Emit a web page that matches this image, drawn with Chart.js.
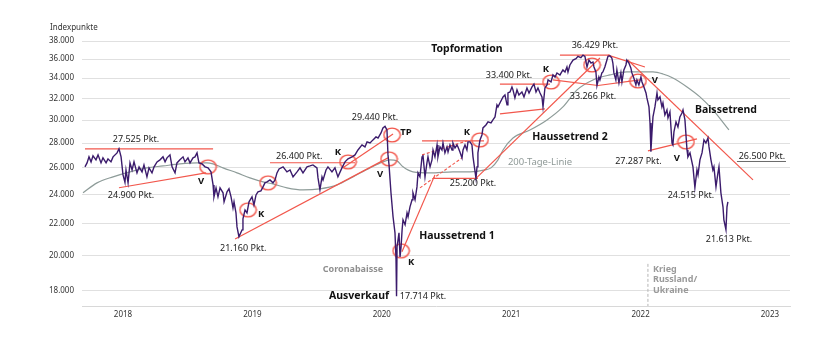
<!DOCTYPE html>
<html lang="de">
<head>
<meta charset="utf-8">
<title>Indexverlauf mit Chartformationen</title>
<script src="https://cdn.jsdelivr.net/npm/chart.js@4.4.1/dist/chart.umd.min.js"></script>
<style>
    html, body { margin: 0; padding: 0; background: #fff; }
    #wrap { width: 840px; height: 341px; }
</style>
</head>
<body>
<div id="wrap"><canvas id="chart" width="840" height="341"></canvas></div>
<script>
// Kursverlauf: [Jahr als Dezimalzahl, Indexpunkte]
const kurs2017 = [
    [2017.706, 26080], [2017.722, 26390], [2017.737, 26870], [2017.753, 26470], [2017.768, 26950],
    [2017.791, 26630], [2017.807, 27030], [2017.830, 26390], [2017.845, 26790], [2017.869, 26390],
    [2017.884, 26710], [2017.907, 26470], [2017.923, 26870], [2017.954, 27190], [2017.969, 27525],
    [2017.985, 26870]
];
const kurs2018 = [
    [2018.000, 25460], [2018.015, 24900], [2018.023, 25840], [2018.039, 24860], [2018.054, 26390],
    [2018.070, 25840], [2018.085, 26470], [2018.108, 25610], [2018.124, 26080], [2018.147, 25690],
    [2018.162, 26230], [2018.185, 25310], [2018.201, 26000], [2018.224, 25610], [2018.240, 26080],
    [2018.263, 26470], [2018.286, 26630], [2018.309, 26870], [2018.325, 26470], [2018.340, 26790],
    [2018.363, 27030], [2018.379, 26080], [2018.402, 25610], [2018.417, 26390], [2018.440, 26630],
    [2018.464, 26870], [2018.479, 26470], [2018.502, 26790], [2018.518, 26390], [2018.541, 26790],
    [2018.556, 26870], [2018.572, 27190], [2018.587, 26390], [2018.611, 26310], [2018.634, 26080],
    [2018.657, 26000], [2018.680, 25690], [2018.696, 24710], [2018.703, 23840], [2018.719, 24490],
    [2018.734, 23840], [2018.750, 24490], [2018.773, 24130], [2018.781, 23490], [2018.804, 24200],
    [2018.819, 24420], [2018.835, 23840], [2018.850, 23070], [2018.858, 23490], [2018.873, 22730],
    [2018.881, 21790], [2018.896, 21160], [2018.920, 21600], [2018.927, 22320], [2018.943, 22930],
    [2018.958, 22730], [2018.974, 23490], [2018.997, 23840]
];
const kurs2019 = [
    [2019.012, 23270], [2019.028, 23980], [2019.043, 24200], [2019.066, 24270], [2019.082, 24560],
    [2019.097, 24860], [2019.113, 24930], [2019.136, 25080], [2019.159, 24860], [2019.175, 25080],
    [2019.190, 25610], [2019.206, 25920], [2019.237, 26080], [2019.267, 25690], [2019.291, 25840],
    [2019.314, 25310], [2019.345, 25690], [2019.368, 26000], [2019.391, 25610], [2019.422, 26080],
    [2019.445, 26150], [2019.468, 26230], [2019.499, 26000], [2019.507, 25230], [2019.522, 24340],
    [2019.538, 25310], [2019.546, 25080], [2019.569, 25840], [2019.584, 26080], [2019.615, 25690],
    [2019.638, 26000], [2019.661, 25310], [2019.692, 26000], [2019.716, 26470], [2019.739, 26710],
    [2019.770, 26870], [2019.793, 27030], [2019.816, 27430], [2019.847, 27850], [2019.870, 27680],
    [2019.886, 28100], [2019.909, 28010], [2019.932, 28270], [2019.955, 28520], [2019.971, 28430],
    [2019.994, 28860]
];
const kurs2020 = [
    [2020.009, 29300], [2020.025, 29440], [2020.040, 29120], [2020.048, 27030], [2020.056, 26230],
    [2020.071, 24130], [2020.087, 22460], [2020.102, 21410], [2020.110, 19750], [2020.114, 17714],
    [2020.118, 20530], [2020.133, 21410], [2020.141, 19920], [2020.149, 20530], [2020.157, 21600],
    [2020.164, 22260], [2020.180, 21930], [2020.195, 22730], [2020.203, 22460], [2020.218, 23140],
    [2020.234, 23630], [2020.241, 24130], [2020.257, 23630], [2020.272, 24560], [2020.280, 25610],
    [2020.295, 25310], [2020.311, 26870], [2020.318, 27030], [2020.334, 25310], [2020.349, 26390],
    [2020.357, 26870], [2020.373, 26080], [2020.388, 26630], [2020.396, 27430], [2020.411, 26870],
    [2020.427, 27850], [2020.434, 26870], [2020.450, 27680], [2020.465, 27430], [2020.473, 28010],
    [2020.488, 27190], [2020.504, 27680], [2020.512, 27270], [2020.527, 27850], [2020.543, 27430],
    [2020.550, 28010], [2020.566, 27600], [2020.581, 27850], [2020.589, 27680], [2020.604, 27270],
    [2020.620, 26790], [2020.628, 27430], [2020.643, 27850], [2020.658, 27430], [2020.666, 28100],
    [2020.682, 28100], [2020.697, 27850], [2020.705, 26870], [2020.728, 25200], [2020.736, 26080],
    [2020.743, 27190], [2020.759, 28270], [2020.774, 28690], [2020.782, 29300], [2020.805, 29560],
    [2020.821, 29830], [2020.844, 29740], [2020.859, 30010], [2020.875, 30280], [2020.890, 31390],
    [2020.898, 31200], [2020.913, 31570], [2020.937, 32150], [2020.952, 32340], [2020.968, 31390],
    [2020.975, 32530], [2020.991, 32630]
];
const kurs2021 = [
    [2021.006, 33120], [2021.014, 32830], [2021.029, 32050], [2021.045, 32830], [2021.060, 32340],
    [2021.083, 32630], [2021.099, 32150], [2021.122, 33020], [2021.138, 32530], [2021.161, 33120],
    [2021.176, 33400], [2021.192, 32630], [2021.207, 33020], [2021.223, 32530], [2021.238, 32150],
    [2021.246, 31200], [2021.261, 33020], [2021.277, 33320], [2021.285, 33820], [2021.308, 33620],
    [2021.323, 34330], [2021.339, 34120], [2021.354, 34540], [2021.377, 34330], [2021.400, 34850],
    [2021.416, 34640], [2021.431, 35160], [2021.439, 34640], [2021.454, 35370], [2021.478, 35900],
    [2021.501, 36050], [2021.516, 36300], [2021.539, 36150], [2021.555, 36429], [2021.570, 36280],
    [2021.586, 35160], [2021.601, 35900], [2021.617, 35580], [2021.632, 35690], [2021.640, 35160],
    [2021.655, 34640], [2021.663, 33266], [2021.678, 34120], [2021.686, 33820], [2021.701, 34540],
    [2021.709, 34640], [2021.724, 35160], [2021.740, 35900], [2021.748, 36300], [2021.763, 36350],
    [2021.778, 36120], [2021.786, 35580], [2021.794, 34540], [2021.809, 33820], [2021.817, 34850],
    [2021.833, 33520], [2021.848, 34540], [2021.856, 33620], [2021.871, 34850], [2021.887, 35370],
    [2021.894, 35900], [2021.910, 35580], [2021.925, 35060], [2021.933, 34540], [2021.948, 34020],
    [2021.964, 33320], [2021.972, 33820], [2021.987, 33320]
];
const kurs2022 = [
    [2022.003, 34120], [2022.011, 33620], [2022.026, 33120], [2022.042, 32530], [2022.049, 32050],
    [2022.065, 31200], [2022.073, 29740], [2022.080, 27287], [2022.088, 28860], [2022.096, 30280],
    [2022.111, 31200], [2022.127, 32530], [2022.134, 31860], [2022.150, 32150], [2022.165, 31200],
    [2022.173, 31570], [2022.188, 30460], [2022.204, 30920], [2022.212, 30190], [2022.227, 30730],
    [2022.243, 28010], [2022.250, 27850], [2022.258, 28950], [2022.274, 29830], [2022.289, 29390],
    [2022.304, 30280], [2022.320, 30640], [2022.328, 30920], [2022.343, 30010], [2022.359, 27430],
    [2022.366, 26870], [2022.382, 27190], [2022.405, 26080], [2022.420, 24515], [2022.436, 25840],
    [2022.444, 25460], [2022.459, 26630], [2022.475, 27190], [2022.490, 28270], [2022.505, 28010],
    [2022.521, 28430], [2022.529, 27680], [2022.544, 26630], [2022.559, 25840], [2022.567, 26080],
    [2022.583, 24560], [2022.598, 25610], [2022.606, 26080], [2022.621, 24130], [2022.637, 23140],
    [2022.644, 22260], [2022.660, 21613], [2022.668, 23140], [2022.675, 23490]
];

// 200-Tage-Linie
const gd200 = [
    [2017.691, 24130], [2017.799, 24860], [2017.923, 25310], [2018.054, 25690], [2018.185, 26000],
    [2018.309, 26150], [2018.440, 26310], [2018.572, 26390], [2018.649, 26390], [2018.696, 26310],
    [2018.773, 26000], [2018.881, 25610], [2018.981, 25230], [2019.082, 24930], [2019.159, 24780],
    [2019.267, 24490], [2019.391, 24340], [2019.522, 24420], [2019.654, 24710], [2019.777, 25310],
    [2019.909, 26000], [2020.009, 26470], [2020.063, 26630], [2020.117, 26550], [2020.164, 26080],
    [2020.241, 25690], [2020.373, 25610], [2020.550, 25690], [2020.682, 25690], [2020.797, 25840],
    [2020.844, 26000], [2020.898, 26630], [2020.937, 27430], [2021.014, 28430], [2021.145, 29120],
    [2021.277, 30010], [2021.400, 31200], [2021.509, 32830], [2021.632, 33820], [2021.763, 34330],
    [2021.894, 34640], [2022.018, 34640], [2022.096, 34640], [2022.173, 34430], [2022.250, 34020],
    [2022.359, 33120], [2022.459, 32150], [2022.559, 30920], [2022.683, 29120]
];

// Trend-, Unterstützungs- und Widerstandslinien: [x1, y1, x2, y2]
const trendLinien = [
    [2017.706, 27525, 2018.696, 27525],
    [2017.969, 24500, 2018.641, 25610],
    [2018.866, 21020, 2020.048, 26790],
    [2019.136, 26400, 2019.793, 26400],
    [2019.700, 26000, 2020.087, 28780],
    [2020.156, 20230, 2020.411, 25460],
    [2020.311, 28180, 2020.790, 28180],
    [2020.396, 25200, 2020.743, 25200],
    [2020.728, 25200, 2021.686, 36120],
    [2020.913, 33400, 2021.300, 33400],
    [2020.913, 30550, 2021.261, 31010],
    [2021.323, 33820, 2021.671, 33266],
    [2021.671, 33266, 2021.995, 33820],
    [2021.377, 36429, 2021.763, 36429],
    [2021.748, 36429, 2022.034, 35160],
    [2021.902, 35900, 2022.869, 25080],
    [2022.057, 27350, 2022.436, 28350]
];
const trendKanal = [
    [2020.311, 27030, 2020.658, 28180],
    [2020.295, 24490, 2020.620, 26790]
];
const marke26500 = [2022.745, 26500, 2023.124, 26500];
const kriegsbeginn = [2022.057, 19510, 2022.057, 17200];

// Kauf-/Verkaufssignale (Kreise)
const signale = [
    [2018.657, 26080], [2018.966, 22930], [2019.121, 24860], [2019.739, 26470],
    [2020.079, 28690], [2020.056, 26710], [2020.149, 20290], [2020.759, 28270],
    [2021.308, 33620], [2021.625, 35370], [2021.980, 33720], [2022.351, 28100]
];

// Beschriftungen: [x, y, Text]
const punktLabels = [
    [2018.100, 28270, '27.525 Pkt.'], [2018.062, 23910, '24.900 Pkt.'], [2018.929, 20410, '21.160 Pkt.'],
    [2019.362, 26870, '26.400 Pkt.'], [2019.947, 30190, '29.440 Pkt.'], [2020.983, 34230, '33.400 Pkt.'],
    [2021.647, 37550, '36.429 Pkt.'], [2021.632, 32150, '33.266 Pkt.'], [2021.983, 26470, '27.287 Pkt.'],
    [2022.938, 26870, '26.500 Pkt.'], [2022.389, 23910, '24.515 Pkt.'], [2022.683, 20960, '21.613 Pkt.'],
    [2020.705, 24780, '25.200 Pkt.'], [2020.318, 17680, '17.714 Pkt.']
];
const signalLabels = [
    [2018.604, 25010, 'V'], [2019.067, 22660, 'K'], [2019.661, 27270, 'K'], [2020.187, 28950, 'TP'],
    [2019.986, 25530, 'V'], [2021.269, 34950, 'K'], [2022.111, 33820, 'V'], [2022.281, 26790, 'V'],
    [2020.658, 28950, 'K'], [2020.227, 19600, 'K']
];
const phasenLabels = [
    [2020.658, 37100, 'Topformation'], [2022.660, 30920, 'Baissetrend'], [2021.454, 28520, 'Haussetrend 2'],
    [2020.581, 21210, 'Haussetrend 1'], [2019.824, 17730, 'Ausverkauf']
];
const ereignisLabels = [
    [2019.777, 19170, 'Coronabaisse'], [2022.096, 19170, 'Krieg'],
    [2022.096, 18600, 'Russland/'], [2022.096, 18000, 'Ukraine']
];
const linienLabel = [2021.223, 26470, '200-Tage-Linie'];

const jahre = [2018, 2019, 2020, 2021, 2022, 2023];
const yTicks = [18000, 20000, 22000, 24000, 26000, 28000, 30000, 32000, 34000, 36000, 38000];

const ROT = '#f2574c';
const FONT = "'Noto Sans', sans-serif";
Chart.defaults.font.family = FONT;

function toPoints(arr) {
    return arr.map(p => ({ x: p[0], y: p[1] }));
}

function lineSet(seg, color, width, dash) {
    return {
        data: [{ x: seg[0], y: seg[1] }, { x: seg[2], y: seg[3] }],
        borderColor: color,
        borderWidth: width,
        borderDash: dash || [],
        pointRadius: 0,
        tension: 0,
        order: 2
    };
}

// Ovale Markierung als Punktsymbol
function ovalSymbol() {
    const c = document.createElement('canvas');
    c.width = 19;
    c.height = 16;
    const g = c.getContext('2d');
    g.strokeStyle = ROT;
    g.lineWidth = 1.4;
    g.beginPath();
    g.ellipse(9.5, 8, 8.2, 6.9, 0, 0, Math.PI * 2);
    g.stroke();
    return c;
}

// Tausenderpunkt wie im Deutschen
function formatDe(v) {
    return String(Math.round(v)).replace(/\B(?=(\d{3})+(?!\d))/g, '.');
}

const kurs = [].concat(kurs2017, kurs2018, kurs2019, kurs2020, kurs2021, kurs2022);

const datasets = [
    {
        label: 'Index',
        data: toPoints(kurs),
        borderColor: '#3b1b6c',
        borderWidth: 1.4,
        pointRadius: 0,
        tension: 0,
        order: 0
    },
    {
        label: '200-Tage-Linie',
        data: toPoints(gd200),
        borderColor: '#8e9c99',
        borderWidth: 1.2,
        pointRadius: 0,
        cubicInterpolationMode: 'monotone',
        order: 3
    }
];
trendLinien.forEach(seg => datasets.push(lineSet(seg, ROT, 1.2)));
trendKanal.forEach(seg => datasets.push(lineSet(seg, ROT, 1.1, [3, 2])));
datasets.push(lineSet(marke26500, '#444', 0.8));
datasets.push(lineSet(kriegsbeginn, '#b5b5b5', 1, [3, 2]));
datasets.push({
    type: 'scatter',
    data: toPoints(signale),
    pointStyle: ovalSymbol(),
    pointRadius: 8,
    pointHoverRadius: 8,
    order: 1
});

// Texte an Datenkoordinaten
const textPlugin = {
    id: 'texte',
    afterDatasetsDraw(chart) {
        const { ctx, scales: { x, y }, chartArea } = chart;
        const put = (list, font, color, align) => {
            ctx.font = font;
            ctx.fillStyle = color;
            ctx.textAlign = align || 'center';
            list.forEach(item => {
                ctx.fillText(item[2], x.getPixelForValue(item[0]), y.getPixelForValue(item[1]));
            });
        };
        ctx.save();
        ctx.textBaseline = 'middle';
        put(punktLabels, '9px ' + FONT, '#222');
        put(signalLabels, 'bold 9.5px ' + FONT, '#111');
        put(phasenLabels, 'bold 10.5px ' + FONT, '#111');
        put(ereignisLabels.slice(0, 1), 'bold 9px ' + FONT, '#8f8f8f');
        put(ereignisLabels.slice(1), 'bold 9px ' + FONT, '#9a9a9a', 'left');
        put([linienLabel], '9.5px ' + FONT, '#8f9997');

        ctx.font = '8px ' + FONT;
        ctx.fillStyle = '#333';
        ctx.textAlign = 'left';
        ctx.fillText('Indexpunkte', 50, chartArea.top - 13);
        ctx.restore();
    }
};

new Chart(document.getElementById('chart'), {
    type: 'line',
    data: { datasets: datasets },
    options: {
        responsive: false,
        animation: false,
        devicePixelRatio: 1,
        layout: { padding: { top: 41, right: 50, left: 0, bottom: 0 } },
        plugins: {
            legend: { display: false },
            tooltip: { enabled: false }
        },
        scales: {
            x: {
                type: 'linear',
                min: 2017.683,
                max: 2023.155,
                grid: { display: false, drawTicks: false },
                border: { display: true, color: '#d8d8d8', width: 1 },
                afterBuildTicks: scale => { scale.ticks = jahre.map(v => ({ value: v })); },
                afterFit: scale => { scale.height = 35; },
                ticks: {
                    padding: 4,
                    color: '#333',
                    font: { size: 8 },
                    maxRotation: 0,
                    callback: v => String(v)
                }
            },
            y: {
                type: 'logarithmic',
                min: 17200,
                max: 38000,
                grid: { color: '#e0e0e0', lineWidth: 1, drawTicks: false },
                border: { display: false },
                afterBuildTicks: scale => { scale.ticks = yTicks.map(v => ({ value: v })); },
                afterFit: scale => { scale.width = 82; },
                ticks: {
                    padding: 8,
                    color: '#333',
                    font: { size: 8 },
                    callback: v => formatDe(v)
                }
            }
        }
    },
    plugins: [textPlugin]
});
</script>
</body>
</html>
